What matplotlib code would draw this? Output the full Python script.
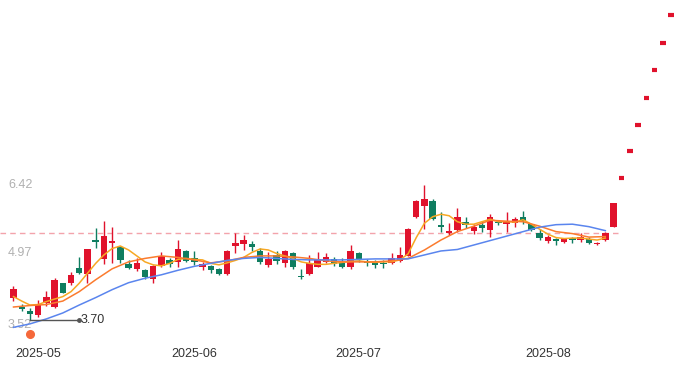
import matplotlib
matplotlib.use("Agg")
import matplotlib.pyplot as plt
import numpy as np

plt.rcParams['font.family'] = ['Liberation Sans', 'DejaVu Sans']

# daily candles, Apr 28 .. Aug 13 2025 (index 0..73)
opens = [4.14, 3.97, 3.87, 3.80, 4.04, 3.97, 4.44, 4.44, 4.74, 4.62,
         5.31, 4.92, 5.26, 5.16, 4.83, 4.72, 4.71, 4.52, 4.79, 4.91,
         4.87, 5.08, 4.94, 4.77, 4.79, 4.72, 4.62, 5.19, 5.23, 5.24,
         5.09, 4.81, 5.01, 4.85, 5.04, 4.59, 4.62, 4.77, 4.87, 4.92,
         4.84, 4.77, 5.04, 4.87, 4.84, 4.85, 4.84, 4.89, 4.99, 5.77,
         6.00, 6.10, 5.61, 5.45, 5.51, 5.67, 5.49, 5.61, 5.51, 5.68,
         5.64, 5.65, 5.78, 5.63, 5.45, 5.30, 5.33, 5.28, 5.35, 5.31,
         5.34, 5.23, 5.31, 5.58]
closes = [4.32, 3.91, 3.81, 4.01, 4.16, 4.50, 4.25, 4.60, 4.64, 5.12,
          5.27, 5.39, 5.29, 4.91, 4.75, 4.85, 4.56, 4.79, 4.99, 4.82,
          5.12, 4.89, 4.87, 4.82, 4.71, 4.62, 5.09, 5.26, 5.31, 5.16,
          4.87, 4.92, 4.89, 5.08, 4.76, 4.56, 4.84, 4.92, 4.96, 4.83,
          4.76, 5.08, 4.92, 4.84, 4.81, 4.82, 4.95, 5.01, 5.53, 6.10,
          6.14, 5.73, 5.57, 5.49, 5.78, 5.61, 5.58, 5.55, 5.77, 5.65,
          5.66, 5.73, 5.69, 5.51, 5.35, 5.38, 5.30, 5.35, 5.31, 5.38,
          5.26, 5.26, 5.45, 6.05]
highs = [4.38, 4.03, 3.95, 4.10, 4.28, 4.55, 4.45, 4.67, 4.96, 5.13,
         5.55, 5.69, 5.57, 5.19, 4.91, 4.94, 4.73, 4.81, 5.06, 4.94,
         5.31, 5.11, 5.08, 4.87, 4.81, 4.75, 5.11, 5.45, 5.41, 5.29,
         5.14, 5.06, 5.09, 5.11, 5.06, 4.73, 5.01, 5.06, 5.04, 4.96,
         4.94, 5.21, 5.06, 4.92, 4.91, 4.91, 5.04, 5.18, 5.55, 6.12,
         6.42, 6.13, 5.87, 5.65, 5.95, 5.78, 5.63, 5.69, 5.83, 5.72,
         5.87, 5.78, 5.90, 5.64, 5.53, 5.41, 5.36, 5.36, 5.38, 5.46,
         5.37, 5.28, 5.48, 6.05]
lows = [4.09, 3.87, 3.70, 3.76, 3.98, 3.95, 4.24, 4.40, 4.63, 4.44,
        5.14, 4.83, 4.84, 4.85, 4.73, 4.69, 4.53, 4.44, 4.77, 4.77,
        4.77, 4.87, 4.81, 4.71, 4.64, 4.61, 4.60, 5.04, 5.11, 5.09,
        4.82, 4.76, 4.82, 4.76, 4.73, 4.52, 4.61, 4.76, 4.84, 4.79,
        4.74, 4.73, 4.87, 4.79, 4.75, 4.75, 4.82, 4.87, 4.98, 5.75,
        5.53, 5.71, 5.48, 5.41, 5.48, 5.55, 5.43, 5.47, 5.38, 5.61,
        5.48, 5.58, 5.63, 5.49, 5.31, 5.25, 5.21, 5.25, 5.26, 5.28,
        5.23, 5.22, 5.30, 5.58]

# flat red marks to the right (index 74..80)
flat_prices = [6.56, 7.10, 7.63, 8.18, 8.74, 9.28, 9.84]

# moving averages
ma5 = [4.17, 4.08, 4.00, 4.01, 4.07, 4.12, 4.17, 4.27, 4.44, 4.64,
       4.84, 5.01, 5.14, 5.19, 5.11, 4.99, 4.87, 4.81, 4.79, 4.84,
       4.92, 4.94, 4.92, 4.91, 4.84, 4.81, 4.85, 4.90, 4.96, 5.06,
       5.13, 5.11, 5.04, 4.99, 4.94, 4.87, 4.84, 4.82, 4.82, 4.84,
       4.86, 4.88, 4.89, 4.87, 4.86, 4.87, 4.87, 4.91, 5.03, 5.36,
       5.65, 5.78, 5.83, 5.80, 5.68, 5.63, 5.63, 5.68, 5.73, 5.68,
       5.68, 5.67, 5.72, 5.63, 5.53, 5.43, 5.36, 5.34, 5.35, 5.35,
       5.33, 5.31, 5.35]
ma10 = [3.96, 3.99, 4.01, 4.08, 4.27, 4.51, 4.73, 4.87, 4.94, 4.99,
        4.96, 4.91, 4.85, 4.89, 4.96, 4.99, 4.99, 4.97, 4.94, 4.89,
        4.87, 4.87, 4.87, 4.89, 4.94, 5.11, 5.31, 5.48, 5.59, 5.71,
        5.69, 5.68, 5.59, 5.48, 5.44, 5.37, 5.38]
ma20 = [3.55, 3.62, 3.72, 3.84, 4.00, 4.15, 4.31, 4.45, 4.54, 4.61,
        4.70, 4.78, 4.84, 4.90, 4.94, 4.96, 4.94, 4.92, 4.91, 4.91,
        4.91, 4.92, 4.93, 4.93, 4.93, 5.01, 5.09, 5.12, 5.21, 5.30,
        5.39, 5.48, 5.57, 5.62, 5.63, 5.58, 5.50]

prev_close = 5.45
low_label = "3.70"
low_price = 3.70
marker_price = 3.42

axis_values = [6.42, 4.97, 3.52]
month_labels = ["2025-05", "2025-06", "2025-07", "2025-08"]
month_index = [3, 22, 42, 65]

RED = "#e0122c"
GREEN = "#0f7d60"

fig = plt.figure(figsize=(6.82, 3.70), dpi=100)
ax = fig.add_axes([0, 0, 1, 1])
ax.set_xlim(-1.642, 81.33)
ax.set_ylim(2.690, 10.150)
ax.axis("off")

n = len(closes)
idx = np.arange(n)
o = np.array(opens)
c = np.array(closes)
up = c >= o
cols = [RED if u else GREEN for u in up]
body_lo = np.minimum(o, c)
body_h = np.maximum(np.abs(c - o), 0.03)

ax.vlines(idx, lows, highs, colors=cols, linewidth=1, zorder=2)
ax.bar(idx, body_h, bottom=body_lo, width=0.78, color=cols, linewidth=0, zorder=3)

fidx = np.arange(n, n + len(flat_prices))
ax.hlines(flat_prices, fidx - 0.33, fidx + 0.33, colors=RED, linewidth=3, zorder=3)

# previous close reference
ax.hlines(prev_close, -1.642, n - 0.5, colors="#f3a3ab", linewidth=1,
          linestyles=(0, (4, 3)), zorder=1)

# moving averages
ax.plot(np.arange(len(ma5)), ma5, color="#f7a823", linewidth=1.1, zorder=4)
even = np.arange(0, 2 * len(ma10), 2)
ax.plot(even, ma10, color="#fb7b2e", linewidth=1.1, zorder=4)
ax.plot(even, ma20, color="#5a85ee", linewidth=1.1, zorder=4)

# lowest price marker
low_i = int(np.argmin(lows))
ax.plot([low_i, low_i + 6], [low_price, low_price], color="#555555", linewidth=1, zorder=5)
ax.plot(low_i + 6, low_price, "o", color="#555555", markersize=2.5, zorder=5)
ax.text(low_i + 6.2, low_price, low_label, fontsize=9, color="#333333",
        va="center", ha="left", zorder=5)
ax.plot(low_i, marker_price, "o", color="#f5683a", markersize=5.5, zorder=5)

# price labels on the left
for k, v in enumerate(axis_values):
    dy = 0 if k == 0 else 4
    ax.annotate(f"{v:.2f}", (-1.642, v), xytext=(8, dy), textcoords="offset pixels",
                fontsize=9, color="#b0b0b0", va="center", ha="left", zorder=1)

# month labels
for lab, mi in zip(month_labels, month_index):
    ax.text(mi, 2.690, lab, fontsize=9, color="#333333", ha="center", va="bottom",
            transform=ax.transData)
    ax.texts[-1].set_position((mi, 2.690 + 10 / 49.6))

fig.savefig("out.png", dpi=100)
